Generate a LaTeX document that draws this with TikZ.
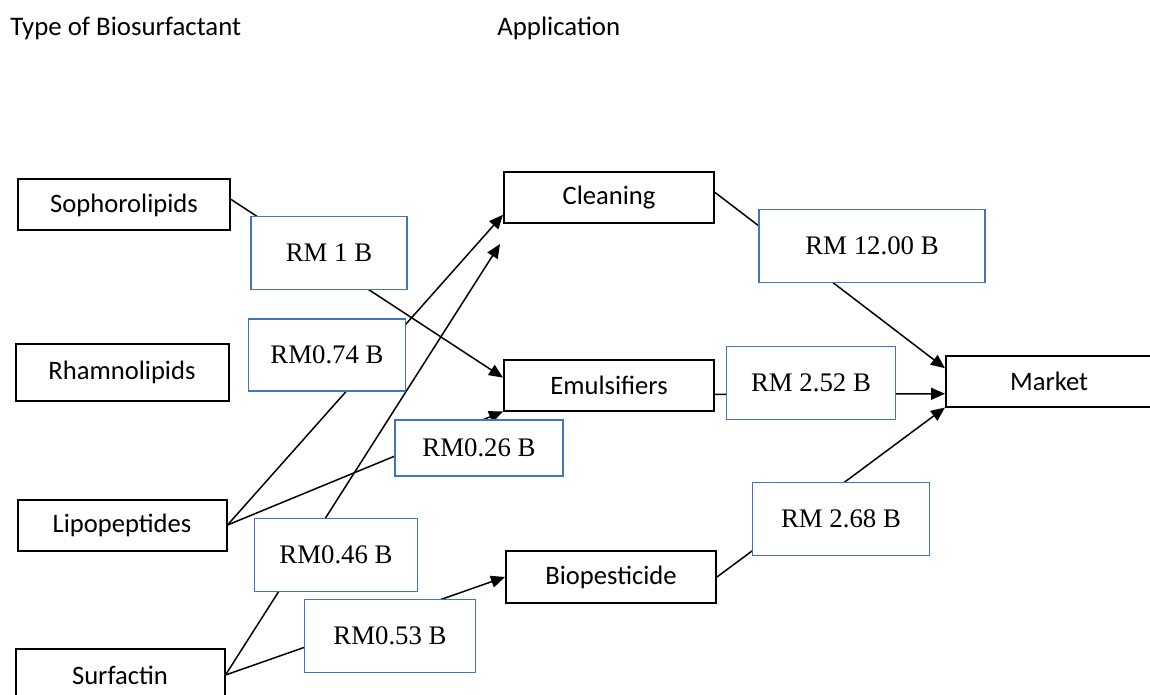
\documentclass[tikz,border=0pt]{standalone}
\usepackage{fontspec}
\setmainfont{Liberation Serif}
\newfontfamily\calibri{Carlito}
\usetikzlibrary{arrows.meta,backgrounds}
\definecolor{wordblue}{RGB}{68,114,196}
\tikzset{
    box/.style={draw=black, line width=1pt, fill=white,
            font=\calibri\fontsize{13.3}{15}\selectfont,
            minimum width=105pt, minimum height=25.5pt,
            inner sep=0pt},
    val/.style={draw=wordblue, line width=0.8pt, fill=white,
            font=\fontsize{13.4}{15}\selectfont,
            minimum height=36.5pt, inner sep=0pt},
    head/.style={anchor=west, font=\calibri\fontsize{13.4}{15}\selectfont, inner sep=0pt},
    flow/.style={line width=0.75pt, -{Triangle[length=7pt,width=6pt]}},
}

\begin{document}
\begin{tikzpicture}[x=0.5pt,y=-0.5pt]
\useasboundingbox (0,0) rectangle (1150,695);
\node[head] (type) at (10,28) {Type of Biosurfactant};
\node[head] (appl) at (497,28) {Application};

\node[box, minimum width=106pt] (sopho) at (124,205) {Sophorolipids};
\node[box, minimum width=106.5pt, minimum height=28.5pt] (rhamno) at (122,372) {Rhamnolipids};
\node[box, minimum width=104.5pt] (lipo) at (122,525) {Lipopeptides};
\node[box, minimum width=104.5pt, minimum height=26pt] (surf) at (120,675) {Surfactin};

\node[box] (clean) at (609,198) {Cleaning};
\node[box] (emul) at (609,385) {Emulsifiers};
\node[box, minimum height=26pt] (bio) at (611,577) {Biopesticide};
\node[box, minimum width=103pt] (market) at (1049,381) {Market};

\node[val, minimum width=78pt] (rma) at (329,253) {RM 1 B};
\node[val, minimum width=78.5pt, minimum height=36pt] (rmb) at (327,355) {RM0.74 B};
\node[val, minimum width=84pt, minimum height=28pt] (rmc) at (479,448) {RM0.26 B};
\node[val, minimum width=81.5pt] (rmd) at (336,555) {RM0.46 B};
\node[val, minimum width=85.5pt] (rme) at (390,636) {RM0.53 B};
\node[val, minimum width=113pt] (rmf) at (872,246) {RM 12.00 B};
\node[val, minimum width=84.5pt] (rmg) at (811,383) {RM 2.52 B};
\node[val, minimum width=88.5pt] (rmh) at (841,519) {RM 2.68 B};

\coordinate (below) at (500,244);

\begin{scope}[on background layer]
\draw[flow] (sopho.3) -- (emul.176);
\draw[flow] (lipo.east) -- (clean.189);
\draw[flow] (lipo.east) -- (emul.south west);
\draw[flow] (surf.east) -- (below);
\draw[flow] (surf.east) -- (bio.west);
\draw[flow] (clean.3) -- (market.173);
\draw[flow] (emul.-5) -- (market.187);
\draw[flow] (bio.east) -- (market.south west);
\end{scope}
\end{tikzpicture}
\end{document}
